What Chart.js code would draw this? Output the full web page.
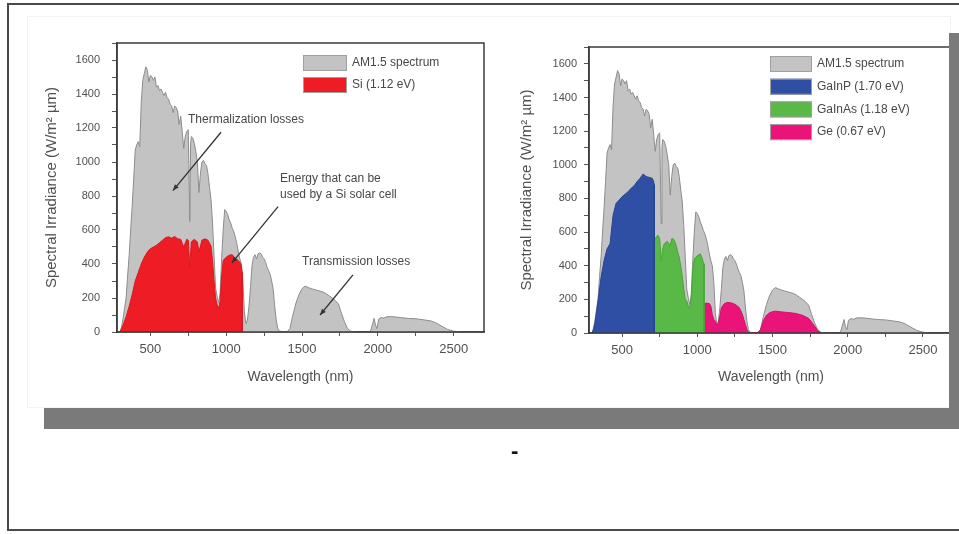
<!DOCTYPE html>
<html><head><meta charset="utf-8">
<script src="https://cdn.jsdelivr.net/npm/chart.js@4.4.1/dist/chart.umd.min.js"></script>
<style>
html,body{margin:0;padding:0;background:#fff;}
body{width:959px;height:534px;position:relative;overflow:hidden;font-family:"Liberation Sans",Arial,sans-serif;}
#frame{position:absolute;left:7px;top:3px;width:980px;height:524px;border:2px solid #4a4a4a;}
#panel{position:absolute;left:27px;top:16px;width:922px;height:390px;border:1px solid #f3f3f3;}
.shadow{position:absolute;background:#7a7a7a;}
#c1{position:absolute;left:27px;top:20px;}
#c2{position:absolute;left:500px;top:20px;}
#dash{position:absolute;left:511px;top:440px;font:bold 22px "Liberation Sans",Arial,sans-serif;color:#111;line-height:22px;}
</style></head>
<body>
<div id="frame"></div>
<div id="panel"></div>
<canvas id="c1" width="465" height="385"></canvas>
<canvas id="c2" width="459" height="385"></canvas>
<div class="shadow" style="left:44px;top:408px;width:915px;height:21px;"></div>
<div class="shadow" style="left:949px;top:33px;width:10px;height:396px;"></div>
<div id="dash">-</div>
<script>
// ---------- DATA (wavelength nm, spectral irradiance W/m² µm) ----------
const am15Spectrum = [[280,0],[300,0],[310,30],[320,80],[330,140],[340,200],[350,330],[360,450],[370,600],[380,740],[390,900],[400,1070],[410,1100],[420,1120],[430,1090],[440,1350],[450,1480],[460,1520],[470,1560],[480,1540],[490,1470],[500,1510],[510,1500],[520,1480],[530,1500],[540,1440],[550,1450],[560,1420],[570,1430],[580,1410],[590,1390],[600,1410],[610,1380],[620,1370],[630,1340],[640,1330],[650,1290],[660,1330],[670,1320],[680,1300],[690,1220],[700,1270],[710,1180],[720,1080],[730,1150],[740,1180],[750,1190],[760,650],[765,1100],[770,1150],[780,1140],[790,1110],[800,1060],[810,1000],[820,820],[830,930],[840,1000],[850,1010],[860,990],[870,980],[880,930],[890,850],[900,780],[910,640],[920,450],[930,260],[940,210],[950,170],[960,230],[970,430],[980,600],[990,720],[1000,710],[1010,690],[1020,660],[1030,640],[1040,610],[1050,590],[1060,560],[1070,520],[1080,470],[1090,430],[1100,400],[1110,300],[1120,120],[1130,50],[1140,70],[1150,150],[1160,260],[1170,390],[1180,440],[1190,455],[1200,430],[1210,460],[1220,465],[1230,460],[1240,440],[1250,430],[1260,410],[1270,380],[1280,360],[1290,340],[1300,300],[1310,250],[1320,150],[1330,70],[1340,20],[1350,5],[1400,0],[1420,20],[1440,100],[1460,170],[1480,220],[1500,255],[1520,270],[1540,262],[1560,255],[1580,250],[1600,245],[1620,240],[1640,235],[1660,225],[1680,212],[1700,200],[1720,185],[1740,165],[1760,110],[1780,60],[1800,20],[1820,5],[1850,0],[1950,0],[1960,30],[1975,80],[1985,40],[1995,20],[2005,75],[2020,85],[2040,82],[2060,90],[2100,90],[2150,85],[2200,80],[2250,78],[2300,72],[2350,65],[2380,55],[2400,45],[2430,30],[2460,15],[2500,5],[2550,0],[2700,0]];
const siUsable = [[280,0],[300,0],[310,20],[320,40],[340,90],[360,150],[380,220],[400,300],[420,350],[440,400],[460,440],[480,470],[500,490],[520,500],[540,510],[560,525],[580,540],[600,555],[620,560],[640,552],[660,562],[680,548],[700,545],[720,500],[740,545],[750,540],[760,380],[770,530],[790,545],[810,530],[820,470],[840,540],[860,548],[880,540],[900,505],[910,420],[920,300],[930,200],[940,160],[950,140],[960,180],[970,330],[980,420],[1000,440],[1020,452],[1040,455],[1060,430],[1080,420],[1090,410],[1100,390],[1105,350],[1106,0]];
const gainpUsable = [[280,0],[300,0],[310,20],[320,60],[340,190],[360,330],[380,430],[400,500],[420,530],[440,700],[460,770],[480,790],[500,810],[520,825],[540,840],[560,860],[580,875],[600,900],[620,920],[640,945],[660,930],[680,925],[700,920],[710,900],[714,880],[715,0]];
const gainasUsable = [[715,0],[715,570],[720,560],[730,575],[740,580],[750,560],[760,430],[770,500],[780,530],[800,545],[820,520],[830,560],[840,560],[850,545],[860,520],[870,480],[880,450],[890,400],[900,340],[910,260],[920,200],[930,190],[940,160],[950,150],[960,210],[970,380],[980,440],[1000,460],[1020,470],[1030,450],[1040,420],[1045,410],[1045,0]];
const geUsable = [[1045,0],[1045,170],[1060,178],[1080,175],[1090,160],[1100,110],[1110,80],[1120,70],[1130,45],[1140,60],[1150,100],[1160,150],[1180,175],[1200,182],[1220,180],[1240,175],[1260,165],[1280,150],[1300,110],[1310,80],[1320,50],[1330,20],[1340,5],[1350,0],[1400,0],[1420,20],[1440,75],[1460,105],[1480,120],[1500,127],[1520,130],[1550,126],[1600,122],[1650,117],[1700,105],[1740,87],[1760,65],[1780,40],[1800,15],[1820,3],[1830,0]];
const seriesLabels = {am:'AM1.5 spectrum', si:'Si (1.12 eV)', gainp:'GaInP (1.70 eV)', gainas:'GaInAs (1.18 eV)', ge:'Ge (0.67 eV)'};
const xRange = [280, 2700], yRange = [0, 1700];
const xTickStep = 250, xLabelStep = 500, yTickStep = 100, yLabelStep = 200;
const xTitle = 'Wavelength (nm)', yTitle = 'Spectral Irradiance (W/m² µm)';
const leftNotes = [
  {lines:['Thermalization losses'], at:[748,1251]},
  {lines:['Energy that can be','used by a Si solar cell'], at:[1355,903], lineGap:94},
  {lines:['Transmission losses'], at:[1500,413]}
];
const leftArrows = [
  {from:[966,1175], to:[649,832]},
  {from:[1342,738], to:[1038,407]},
  {from:[1836,336], to:[1619,100]}
];
// ---------------------------------------------------------------
const FONT = '"Liberation Sans", Arial, sans-serif';
const pts = arr => arr.map(p => ({x:p[0], y:p[1]}));

const framePlugin = {
  id:'boxFrame',
  afterDatasetsDraw(chart){
    const {ctx, chartArea:a} = chart;
    ctx.save();
    ctx.strokeStyle = '#3c3c3c'; ctx.lineWidth = 1.5;
    ctx.strokeRect(a.left, a.top, a.right - a.left, a.bottom - a.top);
    ctx.restore();
  }
};
const insideLegend = {
  id:'insideLegend',
  afterDraw(chart, args, o){
    const {ctx, chartArea:a} = chart;
    ctx.save();
    chart.data.datasets.forEach((ds, i) => {
      const x = a.left + o.dx, y = a.top + o.dy + i * o.gap;
      ctx.fillStyle = ds.backgroundColor; ctx.fillRect(x, y, o.w, o.h);
      ctx.strokeStyle = '#a0a0a0'; ctx.lineWidth = 1; ctx.strokeRect(x + 0.5, y + 0.5, o.w - 1, o.h - 1);
      ctx.fillStyle = '#484848'; ctx.font = '12px ' + FONT; ctx.textBaseline = 'middle'; ctx.textAlign = 'left';
      ctx.fillText(ds.label, x + o.w + 5, y + o.h / 2);
    });
    ctx.restore();
  }
};
const notesPlugin = {
  id:'notes',
  afterDraw(chart, args, o){
    const {ctx} = chart; const xs = chart.scales.x, ys = chart.scales.y;
    ctx.save();
    ctx.font = '12px ' + FONT; ctx.fillStyle = '#484848'; ctx.textBaseline = 'middle'; ctx.textAlign = 'left';
    (o.texts || []).forEach(t => {
      t.lines.forEach((ln, k) => {
        ctx.fillText(ln, xs.getPixelForValue(t.at[0]), ys.getPixelForValue(t.at[1] - k * (t.lineGap || 0)));
      });
    });
    ctx.strokeStyle = '#333'; ctx.fillStyle = '#333'; ctx.lineWidth = 1.3;
    (o.arrows || []).forEach(ar => {
      const x1 = xs.getPixelForValue(ar.from[0]), y1 = ys.getPixelForValue(ar.from[1]);
      const x2 = xs.getPixelForValue(ar.to[0]), y2 = ys.getPixelForValue(ar.to[1]);
      ctx.beginPath(); ctx.moveTo(x1, y1); ctx.lineTo(x2, y2); ctx.stroke();
      const ang = Math.atan2(y2 - y1, x2 - x1), L = 6, W = 2.5;
      ctx.beginPath();
      ctx.moveTo(x2, y2);
      ctx.lineTo(x2 - L*Math.cos(ang) + W*Math.sin(ang), y2 - L*Math.sin(ang) - W*Math.cos(ang));
      ctx.lineTo(x2 - L*Math.cos(ang) - W*Math.sin(ang), y2 - L*Math.sin(ang) + W*Math.cos(ang));
      ctx.closePath(); ctx.fill();
    });
    ctx.restore();
  }
};

function areaSet(label, data, fillCol, lineCol, order){
  return {label, data:pts(data), backgroundColor:fillCol, borderColor:lineCol, borderWidth:1,
    fill:'origin', pointRadius:0, tension:0, order};
}

function makeOptions(c){
  return {
    responsive:false, animation:false, devicePixelRatio:1,
    layout:{padding:{top:c.padTop, right:c.padRight, left:0, bottom:0}},
    plugins:{legend:{display:false}, tooltip:{enabled:false},
      insideLegend:c.legend, notes:{texts:c.texts||[], arrows:c.arrows||[]}},
    scales:{
      x:{type:'linear', min:xRange[0], max:xRange[1],
        afterFit(s){ s.height = c.xHeight; },
        ticks:{stepSize:xTickStep, includeBounds:false, autoSkip:false, maxRotation:0, padding:6,
          color:'#505050', font:{size:13, family:FONT},
          callback:v => (v % xLabelStep === 0 ? String(v) : '')},
        grid:{display:true, drawOnChartArea:false, drawTicks:true, tickLength:4, tickColor:'#555'},
        border:{display:true, color:'#3c3c3c', width:1.5},
        title:{display:true, text:xTitle, color:'#505050', font:{size:14, family:FONT}, padding:{top:0, bottom:19.6}}
      },
      y:{type:'linear', min:yRange[0], max:yRange[1],
        afterFit(s){ s.width = c.yWidth; },
        ticks:{stepSize:yTickStep, autoSkip:false, padding:c.yTickPad,
          color:'#505050', font:{size:11, family:FONT},
          callback:v => (v % yLabelStep === 0 ? String(v) : '')},
        grid:{display:true, drawOnChartArea:false, drawTicks:true, tickLength:5, tickColor:'#555'},
        border:{display:true, color:'#3c3c3c', width:1.5},
        title:{display:true, text:yTitle, color:'#505050', font:{size:15, family:FONT}, padding:{top:c.yTitlePad, bottom:0}}
      }
    }
  };
}

const GREY = '#c3c3c3', GREY_LINE = '#8c8c8c';

new Chart(document.getElementById('c1'), {
  type:'line',
  data:{datasets:[
    areaSet(seriesLabels.am, am15Spectrum, GREY, GREY_LINE, 2),
    areaSet(seriesLabels.si, siUsable, '#ee1c25', '#d81a22', 1)
  ]},
  options:makeOptions({padTop:23, padRight:8, xHeight:73, yWidth:90, yTickPad:12, yTitlePad:16,
    legend:{dx:186, dy:12, gap:22, w:44, h:16}, texts:leftNotes, arrows:leftArrows}),
  plugins:[framePlugin, insideLegend, notesPlugin]
});

new Chart(document.getElementById('c2'), {
  type:'line',
  data:{datasets:[
    areaSet(seriesLabels.am, am15Spectrum, GREY, GREY_LINE, 2),
    areaSet(seriesLabels.gainp, gainpUsable, '#2e4fa3', '#27448f', 1),
    areaSet(seriesLabels.gainas, gainasUsable, '#58b947', '#4aa43b', 1),
    areaSet(seriesLabels.ge, geUsable, '#ea1478', '#d01068', 1)
  ]},
  options:makeOptions({padTop:27, padRight:6, xHeight:72, yWidth:89, yTickPad:7, yTitlePad:18,
    legend:{dx:181, dy:9, gap:22.7, w:42, h:16}}),
  plugins:[framePlugin, insideLegend, notesPlugin]
});
</script>
</body></html>
